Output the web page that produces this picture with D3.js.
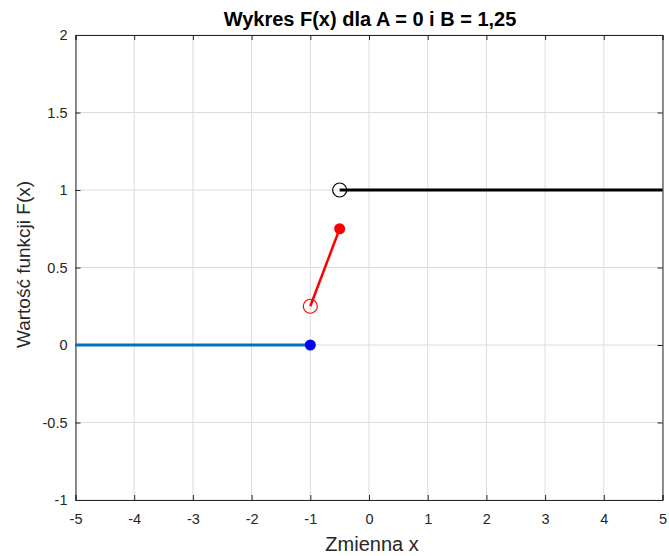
<!DOCTYPE html>
<html><head><meta charset="utf-8">
<script src="https://cdn.jsdelivr.net/npm/d3@7"></script>
<style>body{margin:0;background:#fff;} text{font-family:"Liberation Sans",Arial,Helvetica,sans-serif;}</style>
</head><body>
<svg id="c" width="669" height="556"></svg>
<script>
const xTicks = [-5,-4,-3,-2,-1,0,1,2,3,4,5];
const xTickLabels = ["-5","-4","-3","-2","-1","0","1","2","3","4","5"];
const yTicks = [-1,-0.5,0,0.5,1,1.5,2];
const yTickLabels = ["-1","-0.5","0","0.5","1","1.5","2"];
const seg1X = [-5,-1], seg1Y = [0,0];
const seg2X = [-1,-0.5], seg2Y = [0.25,0.75];
const seg3X = [-0.5,5], seg3Y = [1,1];
const title = "Wykres F(x) dla A = 0 i B = 1,25";
const xLabel = "Zmienna x";
const yLabel = "Wartość funkcji F(x)";

const svg = d3.select("#c");
const L=75.5, R=662.5, T=35, B=500;
const x = d3.scaleLinear().domain([-5,5]).range([L,R]);
const y = d3.scaleLinear().domain([-1,2]).range([B,T]);

// grid
const g = svg.append("g");
g.selectAll(".gx").data(xTicks).join("line").attr("x1",d=>x(d)).attr("x2",d=>x(d)).attr("y1",T).attr("y2",B).attr("stroke","#dcdcdc").attr("stroke-width",1);
g.selectAll(".gy").data(yTicks).join("line").attr("y1",d=>y(d)).attr("y2",d=>y(d)).attr("x1",L).attr("x2",R).attr("stroke","#dcdcdc").attr("stroke-width",1);

// axes
const ax = svg.append("g").attr("transform",`translate(0,${B})`).call(d3.axisBottom(x).tickValues(xTicks).tickSize(-5).tickPadding(14).tickFormat((d,i)=>xTickLabels[i]));
const axT = svg.append("g").attr("transform",`translate(0,${T})`).call(d3.axisTop(x).tickValues(xTicks).tickSize(-5).tickFormat(""));
const ay = svg.append("g").attr("transform",`translate(${L},0)`).call(d3.axisLeft(y).tickValues(yTicks).tickSize(-5).tickPadding(8).tickFormat((d,i)=>yTickLabels[i]));
const ayR = svg.append("g").attr("transform",`translate(${R},0)`).call(d3.axisRight(y).tickValues(yTicks).tickSize(-5).tickFormat(""));
[ax,axT,ay,ayR].forEach(a=>{
  a.select(".domain").attr("stroke","#262626").attr("stroke-width",1);
  a.selectAll(".tick line").attr("stroke","#262626");
  a.selectAll(".tick text").attr("fill","#262626").attr("font-size",14.5).attr("font-family","Liberation Sans, Arial, sans-serif");
});

// data lines
const line = d3.line().x(d=>x(d[0])).y(d=>y(d[1]));
function seg(xs,ys,color,w){
  svg.append("path").attr("d",line(xs.map((v,i)=>[v,ys[i]]))).attr("fill","none").attr("stroke",color).attr("stroke-width",w);
}
seg(seg1X,seg1Y,"#0072BD",3);
seg(seg2X,seg2Y,"#ff0000",2.5);
seg(seg3X,seg3Y,"#000000",3);

// markers
svg.append("circle").attr("cx",x(seg1X[1])).attr("cy",y(seg1Y[1])).attr("r",5.5).attr("fill","#0000ff");
svg.append("circle").attr("cx",x(seg2X[0])).attr("cy",y(seg2Y[0])).attr("r",7).attr("fill","none").attr("stroke","#ff0000").attr("stroke-width",1.2);
svg.append("circle").attr("cx",x(seg2X[1])).attr("cy",y(seg2Y[1])).attr("r",5.5).attr("fill","#ff0000");
svg.append("circle").attr("cx",x(seg3X[0])).attr("cy",y(seg3Y[0])).attr("r",7).attr("fill","none").attr("stroke","#000000").attr("stroke-width",1.2);

// texts
svg.append("text").attr("x",(L+R)/2 + 1).attr("y",26).attr("text-anchor","middle").attr("font-size",20).attr("font-weight","bold").attr("fill","#000").text(title);
svg.append("text").attr("x",(L+R)/2 + 3).attr("y",551).attr("text-anchor","middle").attr("font-size",20).attr("fill","#262626").text(xLabel);
svg.append("text").attr("transform",`translate(30,${(T+B)/2 - 3}) rotate(-90)`).attr("text-anchor","middle").attr("font-size",19).attr("fill","#262626").text(yLabel);
</script>
</body></html>
